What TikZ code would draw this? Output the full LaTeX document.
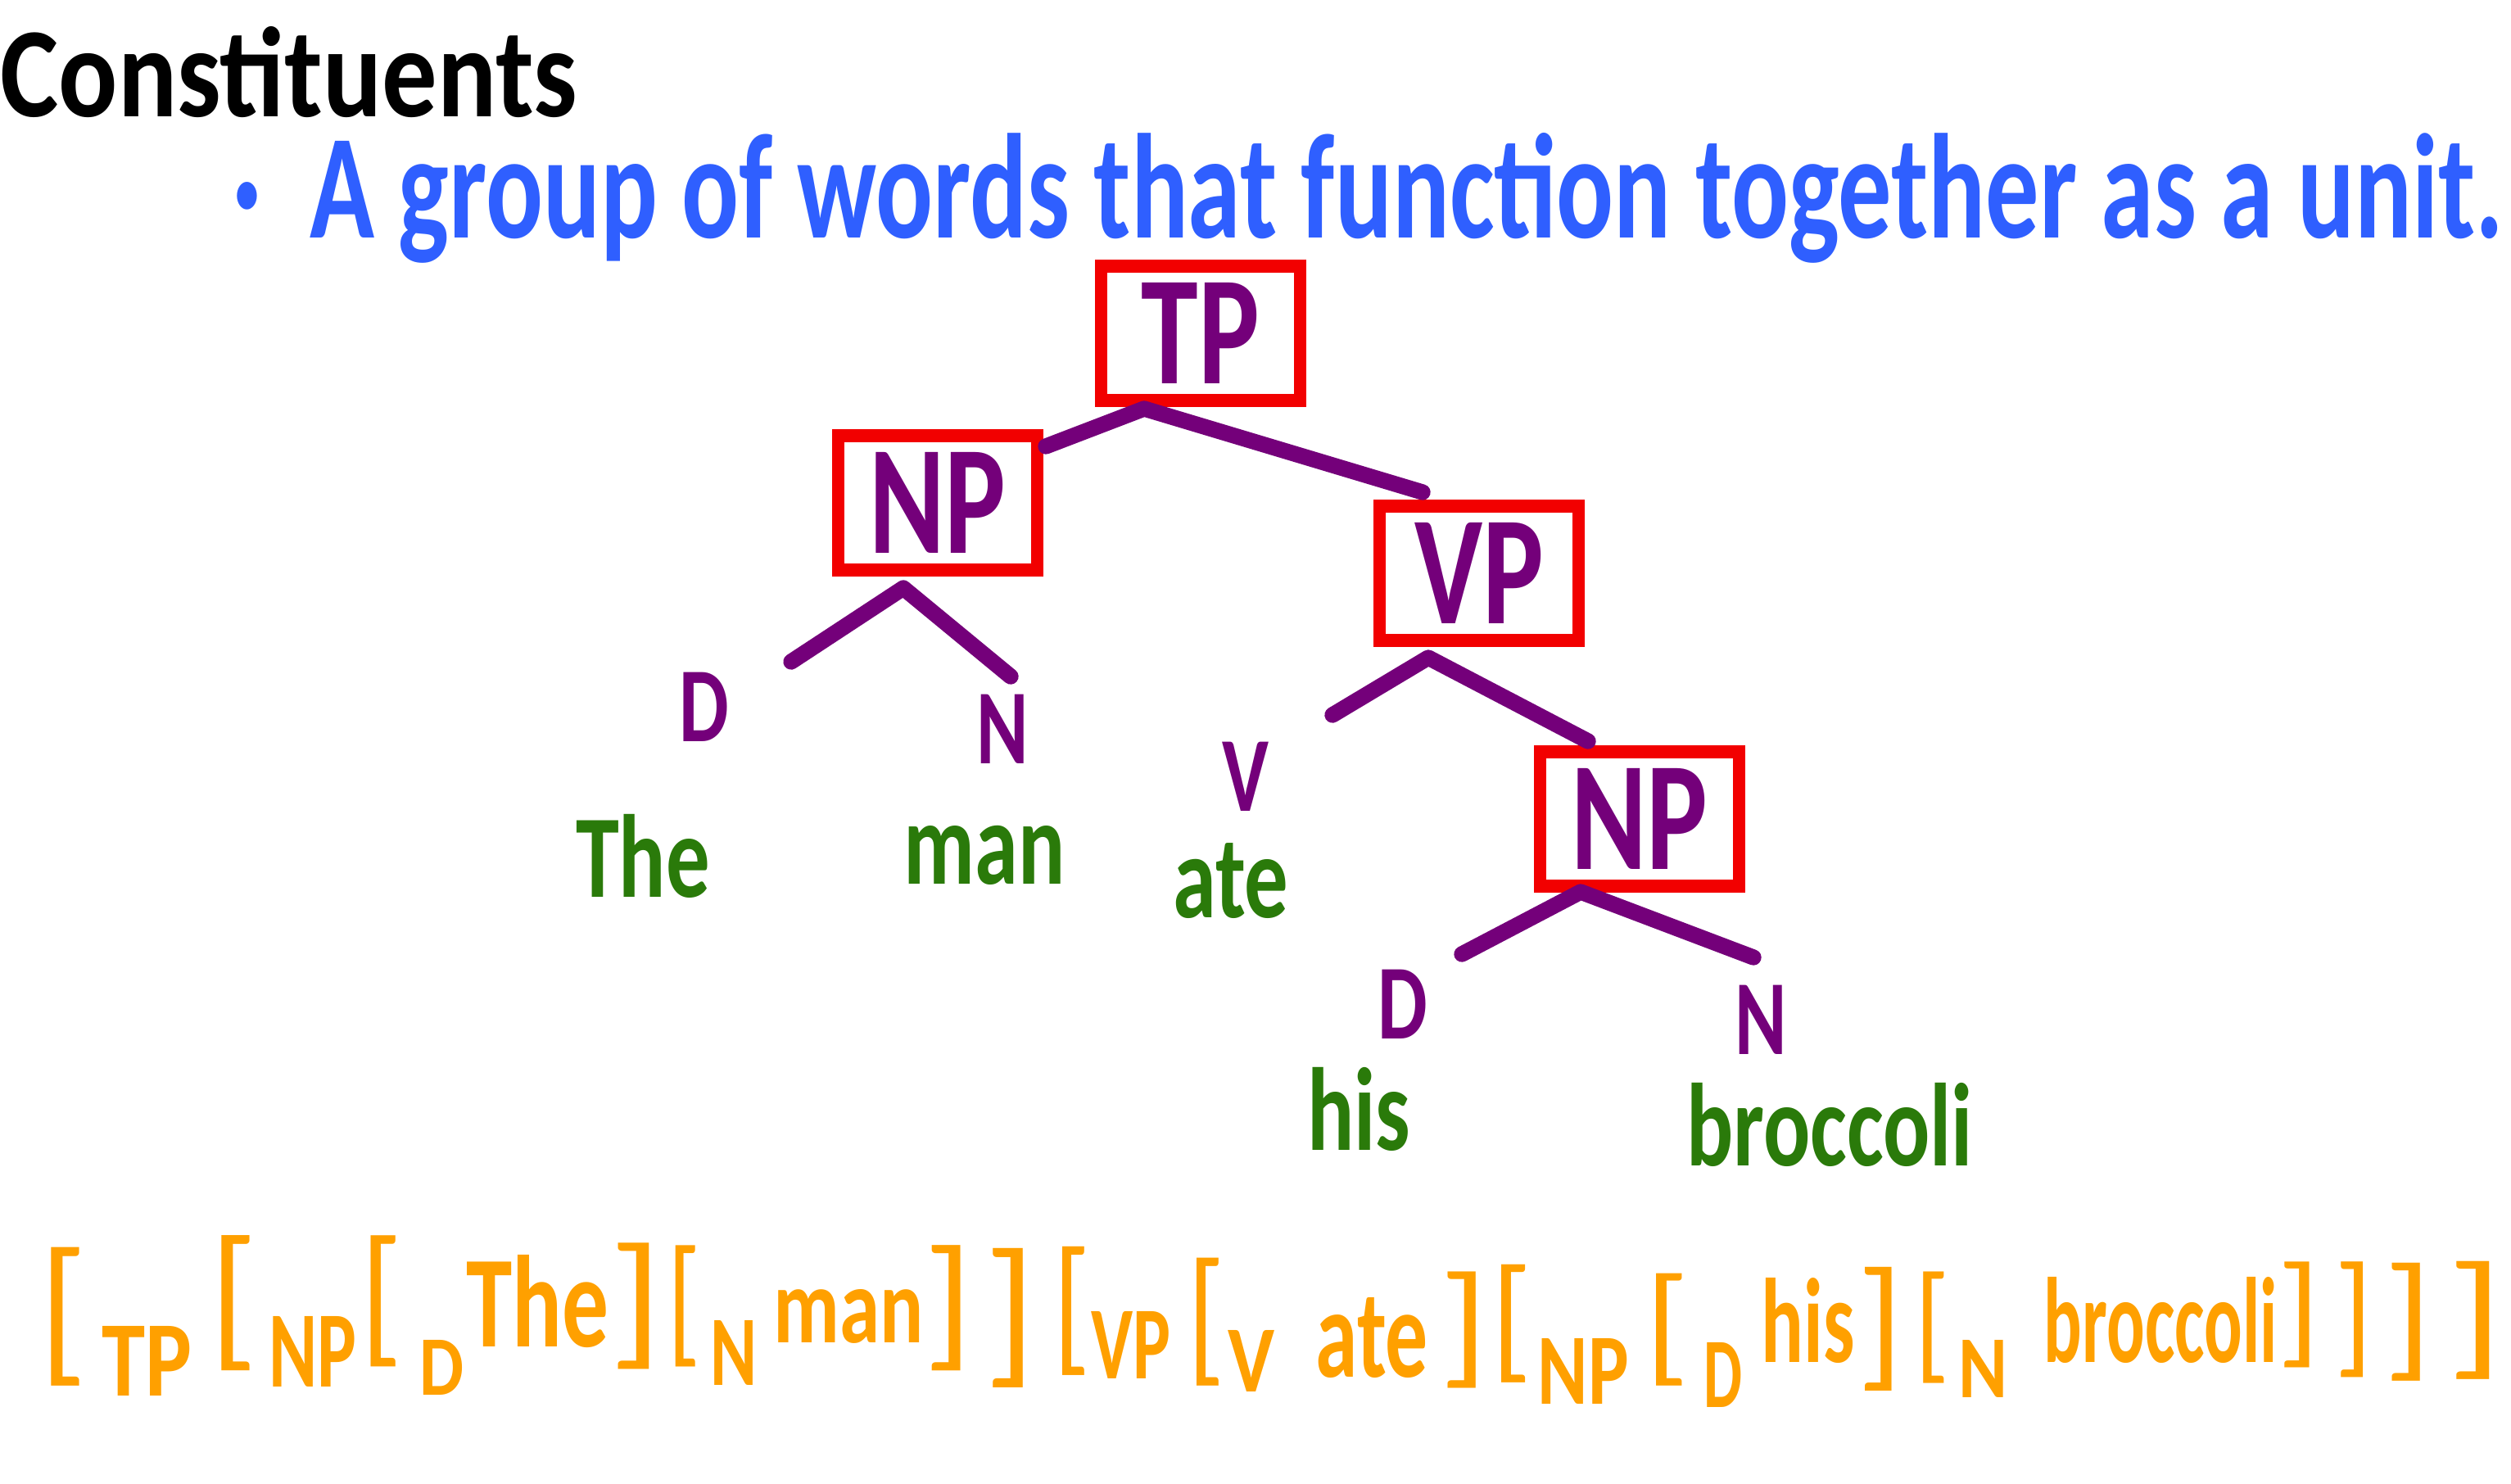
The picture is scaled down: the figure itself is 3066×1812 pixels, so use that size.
\documentclass[tikz,border=0pt]{standalone}
\usepackage{fontspec}
\usepackage{graphicx}
\setmainfont{Carlito}
\newfontfamily\hand[FakeStretch=0.74]{Carlito}
\definecolor{tpurple}{HTML}{74007A}
\definecolor{tred}{HTML}{F20000}
\definecolor{tgreen}{HTML}{2A7A0A}
\definecolor{tblue}{HTML}{2F5FFF}
\definecolor{torange}{HTML}{FFA000}
% fit a text into w x h (h = height above baseline)
\newcommand\fitto[3]{\resizebox{#1}{#2}{\hand\bfseries #3}}
% fit a bracket into w x h (h = total height)
\newcommand\fitbr[3]{\resizebox*{#1}{#2}{\hand #3}}
\tikzset{
  phrasebox/.style={draw=tred, line width=4.3pt, minimum width=2.43cm, minimum height=1.64cm,
    inner sep=0pt, text=tpurple, font=\hand\bfseries\fontsize{54}{54}\selectfont},
  branch/.style={draw=tpurple, line width=5.5pt, line cap=round, line join=round},
  catlabel/.style={text=tpurple, anchor=base, inner sep=0pt, font=\hand\bfseries\fontsize{37}{37}\selectfont},
  wordlabel/.style={text=tgreen, anchor=base, inner sep=0pt, font=\hand\bfseries\fontsize{41}{41}\selectfont},
  plaintext/.style={anchor=base west, inner sep=0pt},
  otok/.style={text=torange, anchor=base west, inner sep=0pt},
  obr/.style={text=torange, anchor=north west, inner sep=0pt}
}
\begin{document}
\begin{tikzpicture}[x=0.01cm, y=-0.01cm]
\useasboundingbox[fill=white] (0,0) rectangle (3066,1812);

% heading and definition
\node[plaintext, text=black] (title) at (0,142) {\fitto{7.04cm}{1.1cm}{Constituents}};
\node[plaintext, text=tblue] (defn) at (284,290) {\fitto{27.7cm}{1.28cm}{·\, A group of words that function together as a unit.}};

% phrase boxes
\node[phrasebox] (tp)  at (1466,407)  {TP};
\node[phrasebox] (np)  at (1145,614)  {NP};
\node[phrasebox] (vp)  at (1806,700)  {VP};
\node[phrasebox] (np2) at (2002,1000) {NP};

% branch points
\coordinate (tpA)  at (1397,499);
\coordinate (npT)  at (1277,545);
\coordinate (vpT)  at (1737,601);
\coordinate (npA)  at (1103,718);
\coordinate (dL)   at (966,808);
\coordinate (nL)   at (1234,826);
\coordinate (vpA)  at (1744,803);
\coordinate (vL)   at (1627,873);
\coordinate (np2T) at (1939,905);
\coordinate (np2A) at (1930,1089);
\coordinate (d2L)  at (1785,1165);
\coordinate (n2L)  at (2141,1169);

\draw[branch] (npT) -- (tpA) -- (vpT);
\draw[branch] (dL) -- (npA) -- (nL);
\draw[branch] (vL) -- (vpA) -- (np2T);
\draw[branch] (d2L) -- (np2A) -- (n2L);

% category labels
\node[catlabel] (d1) at (860,905)  {D};
\node[catlabel] (n1) at (1224,932) {N};
\node[catlabel] (v1) at (1521,990) {V};
\node[catlabel] (d2) at (1713,1268) {D};
\node[catlabel] (n2) at (2150,1287) {N};

% words
\node[wordlabel] (wthe)  at (785,1095)  {The};
\node[wordlabel] (wman)  at (1202,1079) {man};
\node[wordlabel] (wate)  at (1503,1120) {ate};
\node[wordlabel] (whis)  at (1659,1404) {his};
\node[wordlabel] (wbroc) at (2234,1423) {broccoli};

% bracket notation
\node[obr]  (b1)  at (47,1522)   {\fitbr{0.60cm}{1.69cm}{[}};
\node[otok] (s1)  at (124,1704)  {\fitto{1.10cm}{0.85cm}{TP}};
\node[obr]  (b2)  at (255,1508)  {\fitbr{0.60cm}{1.65cm}{[}};
\node[otok] (s2)  at (328,1693)  {\fitto{1.07cm}{0.86cm}{NP}};
\node[obr]  (b3)  at (439,1508)  {\fitbr{0.53cm}{1.60cm}{[}};
\node[otok] (s3)  at (512,1703)  {\fitto{0.54cm}{0.67cm}{D}};
\node[otok] (w1)  at (569,1644)  {\fitto{1.74cm}{1.12cm}{The}};
\node[obr]  (b4)  at (743,1517)  {\fitbr{0.66cm}{1.54cm}{]}};
\node[obr]  (b5)  at (814,1520)  {\fitbr{0.42cm}{1.48cm}{[}};
\node[otok] (s4)  at (867,1691)  {\fitto{0.57cm}{0.79cm}{N}};
\node[otok] (w2)  at (944,1639)  {\fitto{1.83cm}{0.65cm}{man}};
\node[obr]  (b6)  at (1127,1520) {\fitbr{0.61cm}{1.53cm}{]}};
\node[obr]  (b7)  at (1201,1524) {\fitbr{0.64cm}{1.70cm}{]}};
\node[obr]  (b8)  at (1285,1522) {\fitbr{0.47cm}{1.57cm}{[}};
\node[otok] (s5)  at (1332,1683) {\fitto{0.97cm}{0.82cm}{VP}};
\node[obr]  (b9)  at (1449,1535) {\fitbr{0.47cm}{1.56cm}{[}};
\node[otok] (s6)  at (1499,1699) {\fitto{0.57cm}{0.75cm}{V}};
\node[otok] (w3)  at (1606,1681) {\fitto{1.37cm}{0.97cm}{ate}};
\node[obr]  (b10) at (1757,1552) {\fitbr{0.60cm}{1.42cm}{]}};
\node[obr]  (b11) at (1820,1544) {\fitbr{0.51cm}{1.44cm}{[}};
\node[otok] (s7)  at (1877,1714) {\fitto{1.11cm}{0.80cm}{NP}};
\node[obr]  (b12) at (2008,1554) {\fitbr{0.55cm}{1.37cm}{[}};
\node[otok] (s8)  at (2080,1718) {\fitto{0.47cm}{0.79cm}{D}};
\node[otok] (w4)  at (2150,1663) {\fitto{1.14cm}{1.03cm}{his}};
\node[obr]  (b13) at (2267,1547) {\fitbr{0.57cm}{1.51cm}{]}};
\node[obr]  (b14) at (2337,1552) {\fitbr{0.44cm}{1.36cm}{[}};
\node[otok] (s9)  at (2391,1706) {\fitto{0.60cm}{0.70cm}{N}};
\node[otok] (w5)  at (2495,1663) {\fitto{2.85cm}{1.04cm}{broccoli}};
\node[obr]  (b15) at (2780,1540) {\fitbr{0.53cm}{1.29cm}{]}};
\node[obr]  (b16) at (2850,1540) {\fitbr{0.47cm}{1.41cm}{]}};
\node[obr]  (b17) at (2910,1542) {\fitbr{0.60cm}{1.44cm}{]}};
\node[obr]  (b18) at (2987,1540) {\fitbr{0.70cm}{1.44cm}{]}};
\end{tikzpicture}
\end{document}
